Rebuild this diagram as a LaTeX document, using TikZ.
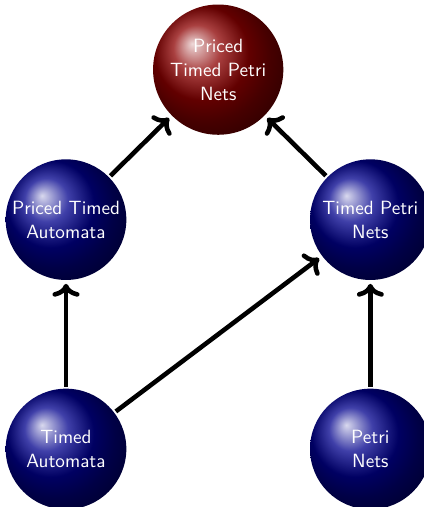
\documentclass[tikz,border=0pt]{standalone}
\usepackage{tikz}
\usetikzlibrary{arrows.meta,positioning,calc,shadings}

\begin{document}
\begin{tikzpicture}[
  every node/.style={font=\sffamily\fontsize{10.9}{13.6}\selectfont,align=center},
  ball/.style={circle,minimum size=24mm,inner sep=0pt,text width=23mm,text=white,ball color=blue!55!black},
  redball/.style={ball,ball color=red!55!black},
  arr/.style={->,line width=2.6pt,shorten >=2pt,shorten <=1pt}
]
\useasboundingbox (0,0) rectangle (8.46,-10.14);
\node[ball] (ta) at (1.32,-8.98) {Timed\\Automata};
\node[ball,right=3.66cm of ta] (pn) {Petri\\Nets};
\node[ball,above=2.16cm of ta] (pta) {Priced Timed\\Automata};
\node[ball,above=2.16cm of pn] (tpn) {Timed Petri\\Nets};
\node[redball] (ptpn) at ($(pta)!0.5!(tpn)+(0,3.0)$) {Priced\\Timed Petri\\Nets};
\draw[arr] (ta)--(pta); \draw[arr] (ta)--(tpn); \draw[arr] (pn)--(tpn);
\draw[arr] (pta)--(ptpn); \draw[arr] (tpn)--(ptpn);
\end{tikzpicture}
\end{document}
